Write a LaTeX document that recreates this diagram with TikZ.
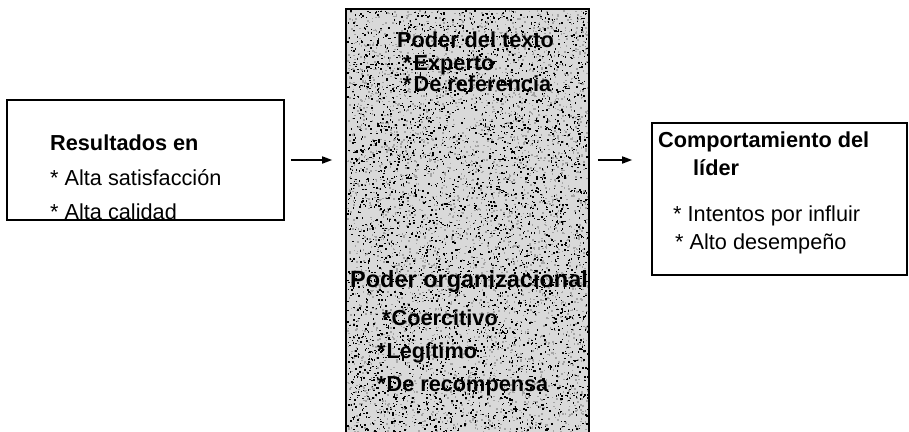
\documentclass[tikz,border=0pt]{standalone}
\usepackage{fontspec}
\setmainfont{Liberation Sans}
\usetikzlibrary{positioning, arrows.meta}

\begin{document}
\begin{tikzpicture}[x=1pt,y=-1pt,font=\fontsize{21.7}{26}\selectfont]
  \tikzstyle{caja}=[draw, line width=1.6pt, inner sep=0pt]
  \tikzstyle{linea}=[anchor=base west, inner sep=0pt]
  \tikzstyle{titulo}=[linea, font=\fontsize{21.7}{26}\selectfont\bfseries]
  \tikzstyle{flecha}=[-{Triangle[length=10pt,width=7pt]}, line width=1.6pt]

    \useasboundingbox (0,0) rectangle (909,431);
    \clip (0,0) rectangle (909,431);

    \node[caja, minimum width=277pt, minimum height=120pt] (res)   at (145.5,160) {};
    \node[caja, minimum width=241pt, minimum height=435pt] (poder) at (467.5,227.5) {};
    \node[caja, minimum width=255pt, minimum height=152pt] (lider) at (779.5,199) {};

    % fondo punteado de la caja central
    \begin{scope}
      \clip (poder.south west) rectangle (poder.north east);
      \fill[gray!30] (poder.south west) rectangle (poder.north east);
      \pgfmathsetseed{17}
      \foreach \i in {1,...,3500} {
        \pgfmathsetmacro\px{347+241*rnd}
        \pgfmathsetmacro\py{10+425*rnd}
        \fill[gray!70] (\px,\py) rectangle ++(1.6,1.6);
      }
      \foreach \i in {1,...,4200} {
        \pgfmathsetmacro\px{347+241*rnd}
        \pgfmathsetmacro\py{10+425*rnd}
        \fill (\px,\py) rectangle ++(1.5,1.5);
      }
      \node[titulo] (pt)  at (397,47)  {Poder del texto};
      \node[titulo] (pt1) at (403,70)  {*\kern2pt Experto};
      \node[titulo] (pt2) at (403,91)  {*\kern2pt De referencia};
      \node[titulo, font=\fontsize{23.5}{28}\selectfont\bfseries] (po) at (350,287) {Poder organizacional};
      \node[titulo] (po1) at (382,325) {*\kern1pt Coercitivo};
      \node[titulo] (po2) at (377,358) {*\kern1pt Legítimo};
      \node[titulo] (po3) at (377,391) {*\kern1pt De recompensa};
    \end{scope}
    \draw[line width=1.6pt] (poder.south west) rectangle (poder.north east);

    \node[titulo] (rt) at (50,150) {Resultados en};
    \node[linea]  (r1) at (50,185) {* Alta satisfacción};
    \node[linea]  (r2) at (50,219) {* Alta calidad};

    \node[titulo] (lt)  at (658,147) {Comportamiento del};
    \node[titulo] (lt2) at (693,175) {líder};
    \node[linea]  (l1)  at (673,221) {* Intentos por influir};
    \node[linea]  (l2)  at (675,249) {* Alto desempeño};

    \draw[flecha, shorten <=6pt, shorten >=14pt] (res.east) -- (poder.west |- res.east);
    \draw[flecha, shorten <=9pt, shorten >=19pt] (poder.east |- res.east) -- (lider.west |- res.east);

\end{tikzpicture}
\end{document}
